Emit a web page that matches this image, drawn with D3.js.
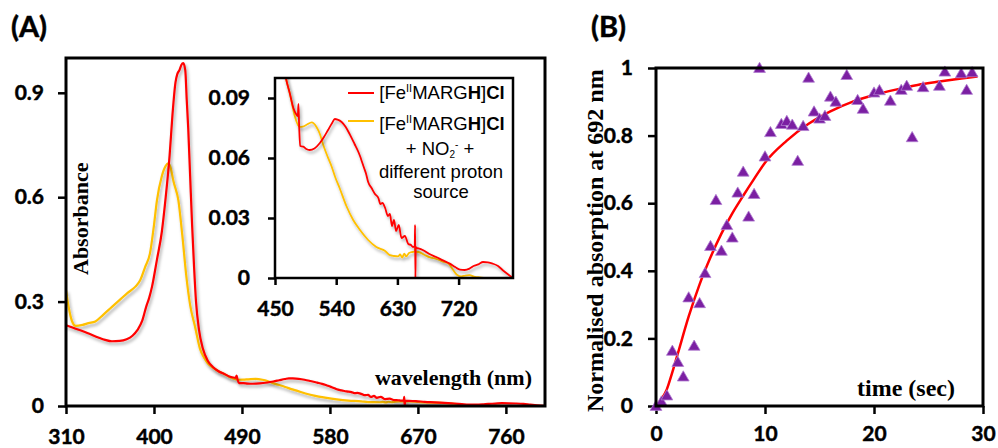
<!DOCTYPE html>
<html>
<head>
<meta charset="utf-8">
<script src="https://cdnjs.cloudflare.com/ajax/libs/d3/7.8.5/d3.min.js"></script>
<style>
  body { margin: 0; background: #fff; }
  .tick text { font-family: Lato, "Open Sans", sans-serif; font-weight: 700; fill: #000; stroke: #000; stroke-width: 0.45px; }
  .ttl { font-family: "Liberation Serif", "DejaVu Serif", serif; font-weight: 700; fill: #000; }
  .lg { font-family: "Liberation Sans", Arial, sans-serif; fill: #000; }
  .panel { font-family: Lato, sans-serif; font-weight: 700; font-size: 29px; fill: #000; stroke: #000; stroke-width: 0.5px; }
</style>
</head>
<body>
<svg id="chart" width="998" height="448"></svg>
<script>
// ---- data ----
// panel A, red spectrum [FeIIMARGH]Cl
const redWl = [310, 318, 326, 335, 343, 350, 357, 365, 372, 378, 383, 388, 392, 395, 398, 403, 408, 412, 416, 419,
  422, 424, 426, 428, 430, 432, 433.5, 435, 437, 439, 441, 443, 446, 450, 455, 460, 466, 472, 477, 481,
  483.5, 484.5, 485.5, 487, 491.6, 496, 501, 508, 516, 522, 528, 534, 538, 542, 548, 554, 560, 567, 572, 575,
  578, 581, 584, 587, 592, 597, 602, 605, 608, 612, 616, 619, 622, 625, 628, 632, 636, 641, 646, 650,
  653, 655.5, 656, 656.5, 657, 658, 661, 668, 677, 687, 697, 707, 715, 722, 729, 736, 742, 749, 756, 763,
  770, 778, 785, 792, 800];
const redAbs = [0.232, 0.224, 0.216, 0.206, 0.197, 0.19, 0.186, 0.187, 0.192, 0.202, 0.218, 0.245, 0.285, 0.31, 0.343, 0.42, 0.5, 0.6, 0.72, 0.84,
  0.93, 0.955, 0.965, 0.98, 0.985, 0.965, 0.88, 0.8, 0.66, 0.52, 0.4, 0.3, 0.22, 0.165, 0.13, 0.113, 0.1, 0.092, 0.085, 0.082,
  0.081, 0.087, 0.076, 0.066, 0.0657, 0.0645, 0.064, 0.0648, 0.0675, 0.0705, 0.074, 0.0775, 0.0795, 0.0792, 0.078, 0.0755, 0.0718, 0.067, 0.0635, 0.061,
  0.058, 0.055, 0.052, 0.048, 0.045, 0.042, 0.04, 0.037, 0.0375, 0.035, 0.031, 0.032, 0.026, 0.029, 0.0235, 0.0265, 0.02, 0.021, 0.017, 0.0165,
  0.0155, 0.016, 0.0265, 0, 0.0155, 0.015, 0.0148, 0.0139, 0.012, 0.0105, 0.0088, 0.0072, 0.0055, 0.0042, 0.004, 0.0047, 0.006, 0.0068, 0.008, 0.0078,
  0.0072, 0.006, 0.0039, 0.002, 0];

// panel A, yellow spectrum (+ NO2- + different proton source)
const yellowWl = [310, 313, 316, 320, 327, 333, 340, 348, 357, 365, 373, 381, 386, 391, 396, 400, 403, 408, 412, 414.5,
  417, 420, 425, 429, 433, 437, 442, 447, 451, 455, 462, 466, 472, 479, 486, 491, 496.5, 504, 511, 516,
  521, 527, 533, 539, 545, 555, 565, 575, 587, 599, 612, 619, 625, 631, 634, 637, 640, 643, 647, 652,
  655.5, 656, 656.5, 661, 670, 678, 687, 697, 705, 712, 718, 724, 730, 736, 744, 751, 760, 800];
const yellowAbs = [0.333, 0.28, 0.245, 0.23, 0.233, 0.238, 0.243, 0.262, 0.285, 0.305, 0.325, 0.343, 0.362, 0.4, 0.44, 0.52, 0.59, 0.66, 0.69, 0.697,
  0.685, 0.645, 0.59, 0.49, 0.375, 0.29, 0.228, 0.165, 0.14, 0.123, 0.107, 0.1, 0.092, 0.081, 0.0755, 0.0757, 0.0766, 0.0778, 0.0755, 0.072,
  0.0665, 0.061, 0.056, 0.05, 0.045, 0.036, 0.029, 0.024, 0.019, 0.0155, 0.0135, 0.0114, 0.011, 0.0108, 0.0118, 0.0102, 0.0122, 0.0108, 0.0125, 0.013,
  0.0132, 0.0155, 0.013, 0.013, 0.0115, 0.0103, 0.0096, 0.0082, 0.0072, 0.004, 0.0015, 0.0008, 0.0012, 0.0014, 0.0006, 0.0003, 0, 0];

const mainWlTicks = [310, 400, 490, 580, 670, 760];
const mainAbsTicks = [0, 0.3, 0.6, 0.9];
const insetWlTicks = [450, 540, 630, 720];
const insetAbsTicks = [0, 0.03, 0.06, 0.09];

// panel B, measured points and fitted curve
const timeSec = [0, 0.5, 1, 1.5, 2, 2.5, 3, 3.5, 4, 4.5, 5, 5.5, 6, 6.5, 7, 7.5, 8, 8.5, 9, 9.5,
  10, 10.5, 11.5, 12, 12.5, 13, 13.5, 14, 14.5, 15, 15.5, 16, 16.5, 17.5, 18.5, 19, 20, 20.5, 21.5, 22.5,
  23, 23.5, 24.5, 26, 26.5, 28, 28.5, 29];
const normAbs = [0, 0.013, 0.031, 0.163, 0.13, 0.087, 0.321, 0.178, 0.304, 0.393, 0.473, 0.609, 0.459, 0.535, 0.498, 0.631, 0.693, 0.56, 0.627, 1.0,
  0.738, 0.81, 0.834, 0.843, 0.832, 0.725, 0.828, 0.971, 0.871, 0.85, 0.858, 0.915, 0.9, 0.979, 0.905, 0.879, 0.927, 0.934, 0.903, 0.935,
  0.947, 0.795, 0.943, 0.947, 0.989, 0.984, 0.935, 0.987];
const fitTime = [0, 0.5, 1, 1.5, 2, 3, 4, 5, 6, 7, 8, 9, 10, 12, 14, 16, 18, 20, 22, 24, 26, 28, 29.5];
const fitValue = [0, 0.02, 0.05, 0.1, 0.155, 0.265, 0.36, 0.44, 0.51, 0.57, 0.622, 0.672, 0.72, 0.785, 0.835, 0.872, 0.9, 0.92, 0.936, 0.95, 0.96, 0.969, 0.975];
const timeTicks = [0, 10, 20, 30];
const normTicks = [0, 0.2, 0.4, 0.6, 0.8, 1];

const RED = "#ff0000", GOLD = "#ffc000", PURPLE = "#7b1fa2";

const svg = d3.select("#chart");
const defs = svg.append("defs");
defs.append("filter").attr("id", "shadow").attr("x", "-5%").attr("y", "-5%").attr("width", "115%").attr("height", "115%")
  .append("feDropShadow").attr("dx", 1.5).attr("dy", 2.5).attr("stdDeviation", 1.4)
  .attr("flood-color", "#000").attr("flood-opacity", 0.35);

const fmt = d => (d === 0 ? "0" : String(d));

// strip the domain line (frames are drawn as rects) and size the tick text
function styleAxis(g, size) {
  g.select(".domain").remove();
  g.selectAll(".tick line").attr("stroke", "#000").attr("stroke-width", 2.5);
  g.selectAll(".tick text").style("font-size", size + "px");
}

// ---------- Panel A ----------
const xA = d3.scaleLinear().domain([310, 800]).range([66, 545]);
const yA = d3.scaleLinear().domain([0, 1]).range([406, 58]);

svg.append("text").attr("class", "panel").attr("x", 11).attr("y", 37).text("(A)");

svg.append("g").attr("transform", "translate(0,406)")
  .call(d3.axisBottom(xA).tickValues(mainWlTicks).tickSize(8).tickPadding(15).tickSizeOuter(0))
  .call(g => styleAxis(g, 21));
svg.append("g").attr("transform", "translate(66,0)")
  .call(d3.axisLeft(yA).tickValues(mainAbsTicks).tickFormat(fmt).tickSize(8).tickPadding(14).tickSizeOuter(0))
  .call(g => styleAxis(g, 21));

const clipA = defs.append("clipPath").attr("id", "clipA");
clipA.append("rect").attr("x", 66).attr("y", 58).attr("width", 479).attr("height", 348);

const lineA = d3.line().x(d => xA(d[0])).y(d => yA(d[1])).curve(d3.curveMonotoneX);
const redPts = redWl.map((w, i) => [w, redAbs[i]]);
const yellowPts = yellowWl.map((w, i) => [w, yellowAbs[i]]);

const plotA = svg.append("g").attr("clip-path", "url(#clipA)");
plotA.append("path").datum(yellowPts).attr("d", lineA).attr("fill", "none")
  .attr("stroke", GOLD).attr("stroke-width", 2.2).attr("filter", "url(#shadow)");
plotA.append("path").datum(redPts).attr("d", lineA).attr("fill", "none")
  .attr("stroke", RED).attr("stroke-width", 2.2).attr("filter", "url(#shadow)");

svg.append("rect").attr("x", 66).attr("y", 58).attr("width", 479).attr("height", 348)
  .attr("fill", "none").attr("stroke", "#000").attr("stroke-width", 3);

svg.append("text").attr("class", "ttl").attr("transform", "translate(88,275) rotate(-90)")
  .style("font-size", "22px").text("Absorbance");
svg.append("text").attr("class", "ttl").attr("x", 532).attr("y", 385).attr("text-anchor", "end")
  .style("font-size", "22px").text("wavelength (nm)");

// ---------- Inset ----------
const xI = d3.scaleLinear().domain([450, 800]).range([275, 513]);
const yI = d3.scaleLinear().domain([0, 0.1]).range([278, 78]);

svg.append("rect").attr("x", 275).attr("y", 78).attr("width", 238).attr("height", 200).attr("fill", "#fff");

svg.append("g").attr("transform", "translate(0,278)")
  .call(d3.axisBottom(xI).tickValues(insetWlTicks).tickSize(7).tickPadding(16).tickSizeOuter(0))
  .call(g => styleAxis(g, 21));
svg.append("g").attr("transform", "translate(275,0)")
  .call(d3.axisLeft(yI).tickValues(insetAbsTicks).tickFormat(fmt).tickSize(7).tickPadding(18).tickSizeOuter(0))
  .call(g => styleAxis(g, 21));

const clipI = defs.append("clipPath").attr("id", "clipI");
clipI.append("rect").attr("x", 275).attr("y", 78).attr("width", 238).attr("height", 200);

const lineI = d3.line().x(d => xI(d[0])).y(d => yI(d[1])).curve(d3.curveMonotoneX);
const plotI = svg.append("g").attr("clip-path", "url(#clipI)");
plotI.append("path").datum(yellowPts.filter(d => d[0] >= 440)).attr("d", lineI).attr("fill", "none")
  .attr("stroke", GOLD).attr("stroke-width", 1.8).attr("filter", "url(#shadow)");
plotI.append("path").datum(redPts.filter(d => d[0] >= 440)).attr("d", lineI).attr("fill", "none")
  .attr("stroke", RED).attr("stroke-width", 1.8).attr("filter", "url(#shadow)");

svg.append("rect").attr("x", 275).attr("y", 78).attr("width", 238).attr("height", 200)
  .attr("fill", "none").attr("stroke", "#000").attr("stroke-width", 2.5);

// legend
svg.append("line").attr("x1", 348).attr("x2", 374).attr("y1", 93).attr("y2", 93).attr("stroke", RED).attr("stroke-width", 2);
svg.append("line").attr("x1", 348).attr("x2", 374).attr("y1", 121).attr("y2", 121).attr("stroke", GOLD).attr("stroke-width", 2);

function feLabel(y) {
  const t = svg.append("text").attr("class", "lg").attr("x", 442).attr("y", y).attr("text-anchor", "middle").style("font-size", "18.5px");
  t.append("tspan").text("[Fe");
  t.append("tspan").attr("dy", -7).style("font-size", "11px").text("II");
  t.append("tspan").attr("dy", 7).text("MARG");
  t.append("tspan").style("font-weight", 700).text("H");
  t.append("tspan").text("]");
  t.append("tspan").style("font-weight", 700).text("Cl");
}
feLabel(99);
feLabel(130);
const no2 = svg.append("text").attr("class", "lg").attr("x", 440).attr("y", 155).attr("text-anchor", "middle").style("font-size", "18.5px");
no2.append("tspan").text("+ NO");
no2.append("tspan").attr("dy", 3).style("font-size", "10px").text("2");
no2.append("tspan").attr("dy", -10).style("font-size", "10px").text("-");
no2.append("tspan").attr("dy", 7).text(" +");
svg.append("text").attr("class", "lg").attr("x", 441).attr("y", 178).attr("text-anchor", "middle").style("font-size", "18.5px").text("different proton");
svg.append("text").attr("class", "lg").attr("x", 441).attr("y", 198).attr("text-anchor", "middle").style("font-size", "18.5px").text("source");

// ---------- Panel B ----------
const xB = d3.scaleLinear().domain([0, 30]).range([656, 983]);
const yB = d3.scaleLinear().domain([0, 1]).range([406, 68]);

svg.append("text").attr("class", "panel").attr("x", 591).attr("y", 37).text("(B)");

svg.append("g").attr("transform", "translate(0,406)")
  .call(d3.axisBottom(xB).tickValues(timeTicks).tickSize(8).tickPadding(12).tickSizeOuter(0))
  .call(g => styleAxis(g, 21));
svg.append("g").attr("transform", "translate(656,0)")
  .call(d3.axisLeft(yB).tickValues(normTicks).tickFormat(fmt).tickSize(8).tickPadding(15).tickSizeOuter(0))
  .call(g => styleAxis(g, 21));

svg.append("path").datum(fitTime.map((t, i) => [t, fitValue[i]]))
  .attr("d", d3.line().x(d => xB(d[0])).y(d => yB(d[1])).curve(d3.curveMonotoneX))
  .attr("fill", "none").attr("stroke", RED).attr("stroke-width", 2.5);

svg.append("g").selectAll("path").data(timeSec).join("path")
  .attr("transform", (d, i) => `translate(${xB(d)},${yB(normAbs[i]) + 1})`)
  .attr("d", d3.symbol(d3.symbolTriangle, 60))
  .attr("fill", PURPLE).attr("stroke", "#b07cd0").attr("stroke-width", 0.8);

svg.append("rect").attr("x", 656).attr("y", 68).attr("width", 327).attr("height", 338)
  .attr("fill", "none").attr("stroke", "#000").attr("stroke-width", 3);

svg.append("text").attr("class", "ttl").attr("transform", "translate(603,412) rotate(-90)")
  .style("font-size", "24px").text("Normalised absorption at 692 nm");
svg.append("text").attr("class", "ttl").attr("x", 955).attr("y", 396).attr("text-anchor", "end")
  .style("font-size", "24px").text("time (sec)");
</script>
</body>
</html>
